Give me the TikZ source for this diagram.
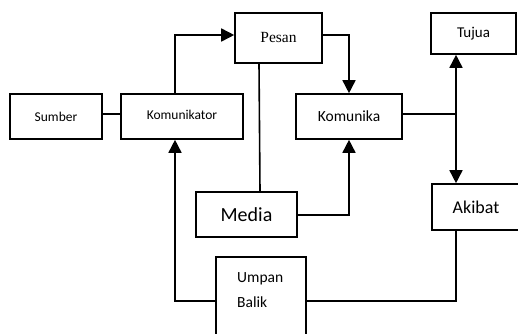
\documentclass[tikz,border=0pt]{standalone}
\usepackage{fontspec}
\setmainfont{Carlito}
\newfontfamily\serifpesan{Liberation Serif}
\usetikzlibrary{arrows.meta}
\begin{document}
\begin{tikzpicture}[x=1pt,y=-1pt,
  box/.style={draw, line width=1.6pt, inner sep=0pt, fill=white},
  conn/.style={line width=1.6pt},
  arr/.style={conn, -{Triangle[length=13pt,width=13pt]}}]
\useasboundingbox (0,0) rectangle (518,333);
\clip (0,0) rectangle (518,333);
\node[box, minimum width=92pt, minimum height=45pt, font=\fontsize{13.5}{15}\selectfont] (sumber) at (56,116.5) {Sumber};
\node[box, minimum width=122pt, minimum height=45pt, font=\fontsize{13.5}{15}\selectfont] (komunikator) at (182,116.5) {\raisebox{2.5pt}{Komunikator}};
\node[box, minimum width=87pt, minimum height=50pt, font=\fontsize{15.5}{17}\selectfont\serifpesan] (pesan) at (278.5,38) {\raisebox{2pt}{Pesan}};
\node[box, minimum width=106pt, minimum height=45pt, font=\fontsize{15.5}{17}\selectfont] (komunika) at (349,116.5) {Komunika};
\node[box, minimum width=85pt, minimum height=41pt, font=\fontsize{15}{17}\selectfont] (tujua) at (473.5,33.5) {Tujua};
\node[box, minimum width=88pt, minimum height=46pt, font=\fontsize{18}{20}\selectfont] (akibat) at (476,207) {Akibat};
\node[box, minimum width=101pt, minimum height=45pt, font=\fontsize{20}{22}\selectfont] (media) at (246.5,214.5) {Media};
\node[box, minimum width=90pt, minimum height=90pt] (umpan) at (261,302) {};
\node[anchor=west, align=left, inner sep=0pt, font=\fontsize{15.5}{25}\selectfont] (umpantext) at (237,290.5) {Umpan\\Balik};
\coordinate (j) at (456,114);
\draw[conn] ([yshift=2.5pt]sumber.east) -- ([yshift=2.5pt]komunikator.west);
\draw[arr] ([xshift=-7pt]komunikator.north) |- ([yshift=3pt]pesan.west);
\draw[arr] ([yshift=3pt]pesan.east) -| (komunika.north);
\draw[conn] ([xshift=-19.5pt]pesan.south) -- ([xshift=13.5pt]media.north);
\draw[arr] ([yshift=-0.5pt]media.east) -| (komunika.south);
\draw[conn] ([yshift=2.5pt]komunika.east) -- (j);
\draw[arr] (j) -- (j |- tujua.south);
\draw[arr] (j) -- (j |- akibat.north);
\draw[arr] ([yshift=1pt]umpan.west) -| ([xshift=-7pt]komunikator.south);
\draw[conn] ([yshift=1pt]umpan.east) -| (j |- akibat.south);
\end{tikzpicture}
\end{document}
